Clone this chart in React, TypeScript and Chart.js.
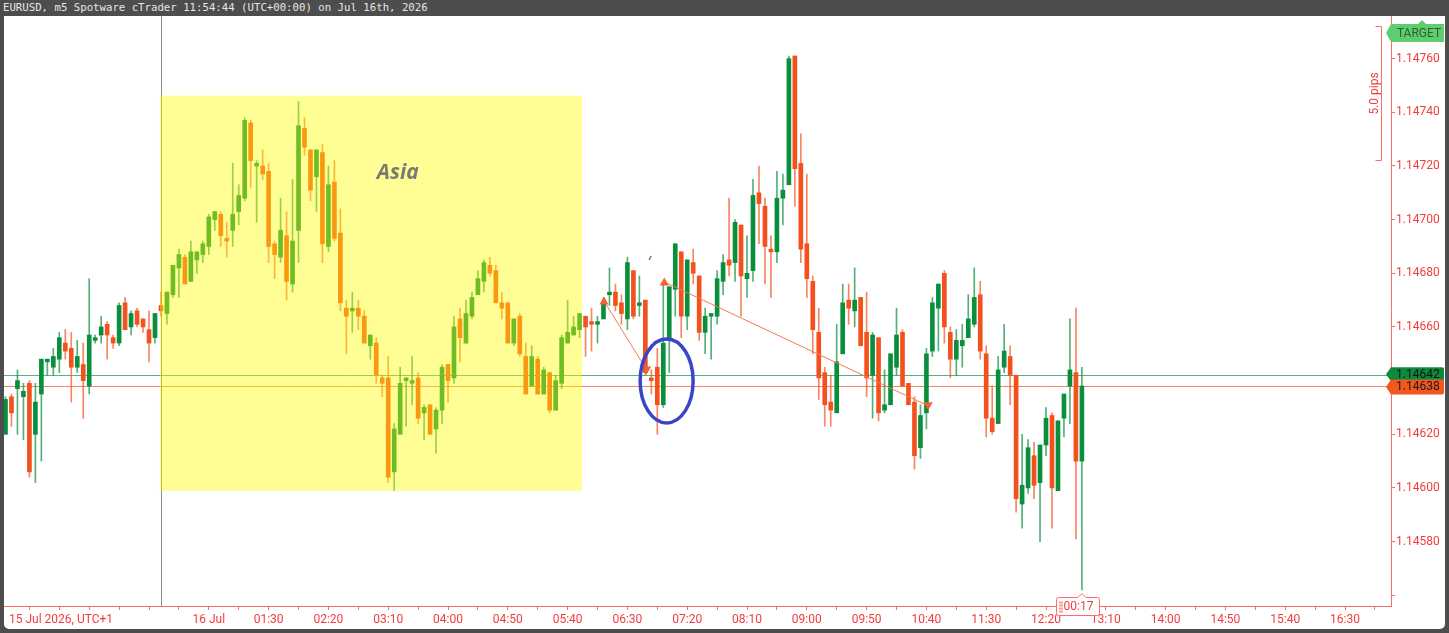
import { useEffect, useRef } from 'react';
import { Chart, registerables } from 'chart.js';

Chart.register(...registerables);

// 5-minute EURUSD candles; index 0 = 16 Jul 00:00 (UTC+1)
const FIRST_INDEX = -26;

const openPrices = [
  1.14620, 1.14634, 1.14637, 1.14634, 1.14639, 1.14620, 1.14635, 1.14647, 1.14645, 1.14648, 1.14654, 1.14652, 1.14645, 1.14646, 1.14638, 1.14655, 1.14657, 1.14661, 1.14656, 1.14654, 1.14669, 1.14660, 1.14666, 1.14663, 1.14659, 1.14656,
  1.14668, 1.14665, 1.14672, 1.14682, 1.14686, 1.14677, 1.14685, 1.14687, 1.14690, 1.14700, 1.14702, 1.14693, 1.14696, 1.14703, 1.14708, 1.14736, 1.14720, 1.14720, 1.14718, 1.14691, 1.14686, 1.14694, 1.14676, 1.14696, 1.14734, 1.14726, 1.14716, 1.14725, 1.14690, 1.14714,
  1.14695, 1.14667, 1.14666, 1.14667, 1.14664, 1.14653, 1.14654, 1.14641, 1.14641, 1.14606, 1.14620, 1.14640, 1.14639, 1.14641, 1.14628, 1.14631, 1.14622, 1.14629, 1.14646, 1.14641, 1.14663, 1.14654, 1.14664, 1.14672, 1.14677, 1.14683, 1.14681, 1.14669, 1.14669, 1.14654,
  1.14664, 1.14649, 1.14638, 1.14648, 1.14635, 1.14643, 1.14629, 1.14639, 1.14654, 1.14657, 1.14659, 1.14664, 1.14662, 1.14661, 1.14663, 1.14672, 1.14673, 1.14669, 1.14663, 1.14681, 1.14668, 1.14670, 1.14641, 1.14645, 1.14631, 1.14656, 1.14674, 1.14688, 1.14664, 1.14684,
  1.14679, 1.14658, 1.14664, 1.14664, 1.14677, 1.14685, 1.14684, 1.14698, 1.14678, 1.14681, 1.14710, 1.14705, 1.14689, 1.14688, 1.14708, 1.14713, 1.14761, 1.14721, 1.14691, 1.14677, 1.14658, 1.14643, 1.14632, 1.14628, 1.14650, 1.14670, 1.14666, 1.14671, 1.14658, 1.14642,
  1.14656, 1.14629, 1.14631, 1.14645, 1.14658, 1.14639, 1.14632, 1.14615, 1.14628, 1.14651, 1.14667, 1.14680, 1.14658, 1.14648, 1.14653, 1.14656, 1.14661, 1.14672, 1.14650, 1.14626, 1.14624, 1.14645, 1.14649, 1.14642, 1.14594, 1.14600, 1.14612, 1.14602, 1.14616, 1.14627,
  1.14599, 1.14626, 1.14638, 1.14643, 1.14610,
];

const highPrices = [
  1.14634, 1.14635, 1.14644, 1.14639, 1.14640, 1.14639, 1.14648, 1.14648, 1.14652, 1.14658, 1.14659, 1.14658, 1.14655, 1.14654, 1.14678, 1.14657, 1.14664, 1.14662, 1.14657, 1.14669, 1.14671, 1.14666, 1.14667, 1.14663, 1.14666, 1.14665,
  1.14673, 1.14673, 1.14683, 1.14689, 1.14687, 1.14692, 1.14688, 1.14692, 1.14702, 1.14703, 1.14703, 1.14699, 1.14721, 1.14713, 1.14738, 1.14737, 1.14722, 1.14726, 1.14721, 1.14692, 1.14708, 1.14703, 1.14715, 1.14744, 1.14738, 1.14726, 1.14726, 1.14728, 1.14720, 1.14722,
  1.14704, 1.14670, 1.14673, 1.14670, 1.14666, 1.14657, 1.14656, 1.14642, 1.14649, 1.14624, 1.14645, 1.14641, 1.14649, 1.14643, 1.14631, 1.14631, 1.14630, 1.14646, 1.14646, 1.14664, 1.14667, 1.14670, 1.14673, 1.14681, 1.14685, 1.14686, 1.14683, 1.14673, 1.14669, 1.14663,
  1.14665, 1.14654, 1.14653, 1.14649, 1.14645, 1.14643, 1.14642, 1.14657, 1.14670, 1.14664, 1.14665, 1.14664, 1.14667, 1.14664, 1.14671, 1.14682, 1.14676, 1.14672, 1.14686, 1.14681, 1.14679, 1.14670, 1.14644, 1.14652, 1.14676, 1.14675, 1.14691, 1.14688, 1.14685, 1.14689,
  1.14679, 1.14667, 1.14665, 1.14681, 1.14687, 1.14708, 1.14700, 1.14698, 1.14694, 1.14715, 1.14720, 1.14708, 1.14694, 1.14718, 1.14717, 1.14761, 1.14761, 1.14732, 1.14717, 1.14679, 1.14667, 1.14645, 1.14642, 1.14661, 1.14676, 1.14676, 1.14682, 1.14671, 1.14673, 1.14658,
  1.14656, 1.14644, 1.14650, 1.14667, 1.14659, 1.14639, 1.14634, 1.14631, 1.14652, 1.14671, 1.14676, 1.14681, 1.14660, 1.14659, 1.14661, 1.14672, 1.14682, 1.14677, 1.14653, 1.14638, 1.14649, 1.14661, 1.14653, 1.14642, 1.14620, 1.14618, 1.14617, 1.14616, 1.14630, 1.14628,
  1.14625, 1.14635, 1.14663, 1.14667, 1.14645,
];

const lowPrices = [
  1.14620, 1.14623, 1.14620, 1.14618, 1.14604, 1.14602, 1.14610, 1.14642, 1.14642, 1.14643, 1.14648, 1.14632, 1.14643, 1.14626, 1.14635, 1.14654, 1.14654, 1.14648, 1.14652, 1.14653, 1.14659, 1.14657, 1.14660, 1.14658, 1.14647, 1.14654,
  1.14664, 1.14661, 1.14671, 1.14671, 1.14676, 1.14677, 1.14680, 1.14684, 1.14687, 1.14696, 1.14690, 1.14686, 1.14690, 1.14698, 1.14707, 1.14712, 1.14699, 1.14715, 1.14684, 1.14678, 1.14684, 1.14670, 1.14673, 1.14684, 1.14724, 1.14707, 1.14703, 1.14684, 1.14688, 1.14692,
  1.14666, 1.14650, 1.14658, 1.14659, 1.14654, 1.14648, 1.14639, 1.14634, 1.14602, 1.14599, 1.14620, 1.14623, 1.14631, 1.14624, 1.14618, 1.14620, 1.14613, 1.14624, 1.14632, 1.14639, 1.14647, 1.14654, 1.14663, 1.14672, 1.14673, 1.14679, 1.14669, 1.14663, 1.14654, 1.14653,
  1.14649, 1.14635, 1.14638, 1.14635, 1.14635, 1.14628, 1.14629, 1.14637, 1.14654, 1.14657, 1.14656, 1.14649, 1.14651, 1.14654, 1.14663, 1.14668, 1.14666, 1.14661, 1.14659, 1.14663, 1.14664, 1.14642, 1.14635, 1.14620, 1.14630, 1.14643, 1.14664, 1.14656, 1.14659, 1.14676,
  1.14655, 1.14650, 1.14648, 1.14661, 1.14672, 1.14679, 1.14677, 1.14664, 1.14671, 1.14677, 1.14691, 1.14676, 1.14671, 1.14684, 1.14698, 1.14713, 1.14705, 1.14684, 1.14671, 1.14650, 1.14633, 1.14623, 1.14623, 1.14628, 1.14650, 1.14661, 1.14660, 1.14653, 1.14634, 1.14626,
  1.14625, 1.14628, 1.14631, 1.14642, 1.14638, 1.14631, 1.14607, 1.14611, 1.14622, 1.14649, 1.14651, 1.14654, 1.14641, 1.14642, 1.14645, 1.14656, 1.14660, 1.14648, 1.14619, 1.14620, 1.14624, 1.14643, 1.14631, 1.14591, 1.14585, 1.14598, 1.14596, 1.14580, 1.14612, 1.14585,
  1.14599, 1.14619, 1.14624, 1.14581, 1.14562,
];

const closePrices = [
  1.14633, 1.14628, 1.14640, 1.14636, 1.14606, 1.14632, 1.14648, 1.14648, 1.14649, 1.14656, 1.14651, 1.14645, 1.14649, 1.14640, 1.14657, 1.14656, 1.14660, 1.14657, 1.14654, 1.14668, 1.14659, 1.14665, 1.14661, 1.14660, 1.14654, 1.14665,
  1.14666, 1.14673, 1.14683, 1.14687, 1.14676, 1.14688, 1.14688, 1.14691, 1.14701, 1.14703, 1.14694, 1.14692, 1.14702, 1.14709, 1.14737, 1.14722, 1.14721, 1.14717, 1.14690, 1.14687, 1.14696, 1.14677, 1.14692, 1.14735, 1.14727, 1.14711, 1.14726, 1.14691, 1.14713, 1.14693,
  1.14669, 1.14664, 1.14667, 1.14664, 1.14654, 1.14657, 1.14642, 1.14639, 1.14604, 1.14622, 1.14639, 1.14641, 1.14640, 1.14626, 1.14630, 1.14620, 1.14629, 1.14645, 1.14640, 1.14660, 1.14656, 1.14665, 1.14671, 1.14678, 1.14684, 1.14680, 1.14669, 1.14667, 1.14654, 1.14663,
  1.14650, 1.14635, 1.14649, 1.14635, 1.14644, 1.14629, 1.14640, 1.14656, 1.14658, 1.14660, 1.14665, 1.14660, 1.14661, 1.14662, 1.14669, 1.14673, 1.14668, 1.14665, 1.14684, 1.14664, 1.14669, 1.14643, 1.14640, 1.14631, 1.14654, 1.14675, 1.14691, 1.14664, 1.14685, 1.14680,
  1.14658, 1.14664, 1.14665, 1.14678, 1.14684, 1.14683, 1.14699, 1.14679, 1.14680, 1.14709, 1.14706, 1.14690, 1.14688, 1.14708, 1.14711, 1.14760, 1.14719, 1.14689, 1.14678, 1.14659, 1.14641, 1.14631, 1.14629, 1.14647, 1.14669, 1.14667, 1.14670, 1.14653, 1.14641, 1.14657,
  1.14628, 1.14631, 1.14650, 1.14657, 1.14638, 1.14631, 1.14612, 1.14627, 1.14650, 1.14669, 1.14676, 1.14660, 1.14648, 1.14655, 1.14655, 1.14663, 1.14671, 1.14651, 1.14626, 1.14621, 1.14644, 1.14651, 1.14642, 1.14596, 1.14601, 1.14615, 1.14601, 1.14616, 1.14626, 1.14600,
  1.14625, 1.14635, 1.14644, 1.14610, 1.14638,
];

const xTickLabels = ['16 Jul', '01:30', '02:20', '03:10', '04:00', '04:50', '05:40', '06:30', '07:20', '08:10', '09:00', '09:50', '10:40', '11:30', '12:20', '13:10', '14:00', '14:50', '15:40', '16:30'];
const X_LABEL_FIRST = 8;
const X_LABEL_STEP = 10;
const X_TICK_FIRST = -22;
const X_TICK_STEP = 5;
const X_TICK_LAST = 203;
const yTickValues = [1.1456, 1.1458, 1.146, 1.1462, 1.1464, 1.1466, 1.1468, 1.147, 1.1472, 1.1474, 1.1476];
const ASK = 1.14642;
const BID = 1.14638;
const X_MIN = -26.25;
const X_MAX = 205.69;
const Y_MIN = 1.14556;
const Y_MAX = 1.147759;

// drawings
const asiaBox = { x0: -0.17, x1: 70.4, top: 1.147462, bottom: 1.145989 };
const asiaLabel = { x: 39.6, y: 1.147174, text: 'Asia' };
const trendLines = [
  { x0: 74.08, y0: 1.146697, x1: 81.22, y1: 1.14644 },
  { x0: 84.16, y0: 1.146768, x1: 128.3, y1: 1.146306 },
];
const ellipse = { x: 84.56, y: 1.146399, rx: 4.43, ry: 0.0001565 };
const pipsRuler = { top: 1.147723, bottom: 1.147223, text: '5.0 pips' };

const GREEN = '#0a8f3d';
const RED = '#f4511e';
const GREEN_WICK = 'rgba(10,143,61,0.7)';
const RED_WICK = 'rgba(244,81,30,0.7)';
const AXIS_RED = '#f23c3c';
const AXIS_LINE = '#ff6b6b';

function triangle(ctx: CanvasRenderingContext2D, px: number, py: number, up: boolean) {
  ctx.beginPath();
  if (up) {
    ctx.moveTo(px, py - 4.5);
    ctx.lineTo(px + 4.5, py + 3.5);
    ctx.lineTo(px - 4.5, py + 3.5);
  } else {
    ctx.moveTo(px, py + 4.5);
    ctx.lineTo(px + 4.5, py - 3.5);
    ctx.lineTo(px - 4.5, py - 3.5);
  }
  ctx.closePath();
  ctx.fill();
}

function priceTag(ctx: CanvasRenderingContext2D, left: number, right: number, cy: number, h: number, bg: string, text: string, fg: string) {
  ctx.fillStyle = bg;
  ctx.beginPath();
  ctx.moveTo(left, cy);
  ctx.lineTo(left + 5, cy - h / 2);
  ctx.lineTo(right - 2, cy - h / 2);
  ctx.quadraticCurveTo(right, cy - h / 2, right, cy - h / 2 + 2);
  ctx.lineTo(right, cy + h / 2 - 2);
  ctx.quadraticCurveTo(right, cy + h / 2, right - 2, cy + h / 2);
  ctx.lineTo(left + 5, cy + h / 2);
  ctx.closePath();
  ctx.fill();
  ctx.fillStyle = fg;
  ctx.font = '12px Roboto';
  ctx.textBaseline = 'middle';
  ctx.textAlign = 'left';
  ctx.fillText(text, left + 10, cy + 0.5);
}

const overlayPlugin = {
  id: 'ctraderOverlay',
  beforeDatasetsDraw(chart: any) {
    const { ctx, chartArea: a, scales } = chart;
    const x = scales.x;
    const y = scales.y;
    ctx.save();
    ctx.beginPath();
    ctx.rect(a.left, a.top, a.right - a.left, a.bottom - a.top);
    ctx.clip();
    const sx = Math.round(x.getPixelForValue(0)) + 0.5;
    ctx.strokeStyle = '#8a8a8a';
    ctx.lineWidth = 1;
    ctx.beginPath();
    ctx.moveTo(sx, a.top);
    ctx.lineTo(sx, a.bottom);
    ctx.stroke();
    const ay = Math.round(y.getPixelForValue(ASK)) + 0.5;
    ctx.strokeStyle = 'rgba(30,150,80,0.75)';
    ctx.beginPath();
    ctx.moveTo(a.left, ay);
    ctx.lineTo(a.right, ay);
    ctx.stroke();
    const by = Math.round(y.getPixelForValue(BID)) + 0.5;
    ctx.strokeStyle = 'rgba(244,100,60,0.8)';
    ctx.beginPath();
    ctx.moveTo(a.left, by);
    ctx.lineTo(a.right, by);
    ctx.stroke();
    ctx.restore();
  },
  afterDatasetsDraw(chart: any) {
    const { ctx, chartArea: a, scales } = chart;
    const x = scales.x;
    const y = scales.y;
    ctx.save();
    ctx.beginPath();
    ctx.rect(a.left, a.top, a.right - a.left, a.bottom - a.top);
    ctx.clip();
    // Asia session box
    const bx0 = x.getPixelForValue(asiaBox.x0);
    const bx1 = x.getPixelForValue(asiaBox.x1);
    const by0 = y.getPixelForValue(asiaBox.top);
    const by1 = y.getPixelForValue(asiaBox.bottom);
    ctx.fillStyle = 'rgba(255,252,0,0.42)';
    ctx.fillRect(bx0, by0, bx1 - bx0, by1 - by0);
    ctx.fillStyle = '#7a7a74';
    ctx.font = 'italic bold 21px "Open Sans"';
    ctx.textAlign = 'center';
    ctx.textBaseline = 'middle';
    ctx.fillText(asiaLabel.text, x.getPixelForValue(asiaLabel.x), y.getPixelForValue(asiaLabel.y));
    // trend lines
    ctx.strokeStyle = '#f47a52';
    ctx.fillStyle = '#f4602e';
    ctx.lineWidth = 1;
    trendLines.forEach((t) => {
      const p0x = x.getPixelForValue(t.x0);
      const p0y = y.getPixelForValue(t.y0);
      const p1x = x.getPixelForValue(t.x1);
      const p1y = y.getPixelForValue(t.y1);
      ctx.beginPath();
      ctx.moveTo(p0x, p0y);
      ctx.lineTo(p1x, p1y);
      ctx.stroke();
      triangle(ctx, p0x, p0y, true);
      triangle(ctx, p1x, p1y, false);
    });
    // small pen mark
    const mx = x.getPixelForValue(81.8);
    const my = y.getPixelForValue(1.146857);
    ctx.strokeStyle = '#777';
    ctx.lineWidth = 1.5;
    ctx.beginPath();
    ctx.moveTo(mx - 1, my + 2);
    ctx.lineTo(mx + 1, my - 2);
    ctx.stroke();
    // blue ellipse
    const ex = x.getPixelForValue(ellipse.x);
    const ey = y.getPixelForValue(ellipse.y);
    const erx = x.getPixelForValue(ellipse.x + ellipse.rx) - ex;
    const ery = ey - y.getPixelForValue(ellipse.y + ellipse.ry);
    ctx.strokeStyle = '#3a45c8';
    ctx.lineWidth = 3.5;
    ctx.beginPath();
    ctx.ellipse(ex, ey, erx, ery, 0, 0, Math.PI * 2);
    ctx.stroke();
    // 5.0 pips ruler
    ctx.strokeStyle = AXIS_LINE;
    ctx.lineWidth = 1;
    const bTop = Math.round(y.getPixelForValue(pipsRuler.top)) + 0.5;
    const bBot = Math.round(y.getPixelForValue(pipsRuler.bottom)) + 0.5;
    const brx = a.right - 9.5;
    ctx.beginPath();
    ctx.moveTo(brx - 6, bTop);
    ctx.lineTo(brx, bTop);
    ctx.lineTo(brx, bBot);
    ctx.lineTo(brx - 6, bBot);
    ctx.stroke();
    ctx.save();
    ctx.translate(brx - 7, (bTop + bBot) / 2);
    ctx.rotate(-Math.PI / 2);
    ctx.fillStyle = AXIS_RED;
    ctx.font = '12px Roboto';
    ctx.textAlign = 'center';
    ctx.textBaseline = 'middle';
    ctx.fillText(pipsRuler.text, 0, 0);
    ctx.restore();
    ctx.restore();
  },
  afterDraw(chart: any) {
    const { ctx, chartArea: a, scales, width } = chart;
    const x = scales.x;
    const y = scales.y;
    ctx.save();
    // price tags on the right axis
    priceTag(ctx, a.right - 5, width - 1, y.getPixelForValue(ASK) - 1, 14, '#0b8a3c', ASK.toFixed(5), '#111');
    priceTag(ctx, a.right - 5, width - 1, y.getPixelForValue(BID) + 1, 15, '#f4561f', BID.toFixed(5), '#1a1a1a');
    // TARGET tag
    ctx.fillStyle = '#5ecd6e';
    ctx.beginPath();
    const tt = 8;
    const tb = 26;
    ctx.moveTo(a.right - 5, (tt + tb) / 2);
    ctx.lineTo(a.right, tt);
    ctx.lineTo(a.right + 27, tt);
    ctx.lineTo(a.right + 31, tt - 4);
    ctx.lineTo(a.right + 35, tt);
    ctx.lineTo(width - 1, tt);
    ctx.lineTo(width - 1, tb);
    ctx.lineTo(a.right, tb);
    ctx.closePath();
    ctx.fill();
    ctx.fillStyle = '#2f5f35';
    ctx.font = '12px Roboto';
    ctx.textAlign = 'center';
    ctx.textBaseline = 'middle';
    ctx.fillText('TARGET', (a.right + width) / 2 + 1, (tt + tb) / 2 + 0.5);
    // countdown box
    const lastX = x.getPixelForValue(FIRST_INDEX + closePrices.length - 1);
    const cL = Math.round(lastX) - 25.5;
    const cR = Math.round(lastX) + 17.5;
    const cT = a.bottom - 8.5;
    const cB = a.bottom + 9.5;
    ctx.fillStyle = '#fff';
    ctx.strokeStyle = AXIS_LINE;
    ctx.lineWidth = 1;
    ctx.beginPath();
    ctx.moveTo(cL + 2, cT);
    ctx.lineTo(lastX - 4, cT);
    ctx.lineTo(lastX, cT - 4);
    ctx.lineTo(lastX + 4, cT);
    ctx.lineTo(cR - 2, cT);
    ctx.quadraticCurveTo(cR, cT, cR, cT + 2);
    ctx.lineTo(cR, cB - 2);
    ctx.quadraticCurveTo(cR, cB, cR - 2, cB);
    ctx.lineTo(cL + 2, cB);
    ctx.quadraticCurveTo(cL, cB, cL, cB - 2);
    ctx.lineTo(cL, cT + 2);
    ctx.quadraticCurveTo(cL, cT, cL + 2, cT);
    ctx.closePath();
    ctx.fill();
    ctx.stroke();
    ctx.fillStyle = AXIS_RED;
    for (let r = 0; r < 4; r++) {
      ctx.fillRect(cL + 3, cT + 4 + r * 3, 1, 2);
      ctx.fillRect(cL + 5, cT + 4 + r * 3, 1, 2);
    }
    ctx.font = '12px Roboto';
    ctx.textAlign = 'left';
    ctx.textBaseline = 'middle';
    ctx.fillText('00:17', cL + 7, (cT + cB) / 2 + 0.5);
    // first date label
    ctx.textAlign = 'left';
    ctx.fillText('15 Jul 2026, UTC+1', 5, a.bottom + 13.5);
    ctx.restore();
  },
};

export default function App() {
  const canvasRef = useRef<HTMLCanvasElement | null>(null);

  useEffect(() => {
    const canvas = canvasRef.current;
    if (!canvas) return;
    const xs = closePrices.map((_, k) => FIRST_INDEX + k);
    const up = closePrices.map((c, k) => c >= openPrices[k]);
    const chart = new Chart(canvas, {
      type: 'bar',
      data: {
        datasets: [
          {
            label: 'wicks',
            data: xs.map((xv, k) => ({ x: xv, y: [lowPrices[k], highPrices[k]] })) as any,
            backgroundColor: up.map((u) => (u ? GREEN_WICK : RED_WICK)),
            barThickness: 1,
            grouped: false,
            borderWidth: 0,
            minBarLength: 1,
          } as any,
          {
            label: 'bodies',
            data: xs.map((xv, k) => ({ x: xv, y: [openPrices[k], closePrices[k]] })) as any,
            backgroundColor: up.map((u) => (u ? GREEN : RED)),
            barThickness: 4,
            grouped: false,
            borderWidth: 0,
            minBarLength: 1,
          } as any,
        ],
      },
      options: {
        responsive: false,
        animation: false,
        devicePixelRatio: 1,
        layout: { padding: 0 },
        plugins: { legend: { display: false }, tooltip: { enabled: false } },
        scales: {
          x: {
            type: 'linear',
            min: X_MIN,
            max: X_MAX,
            offset: false,
            position: 'bottom',
            grid: { display: true, offset: false, drawOnChartArea: false, drawTicks: true, tickLength: 4, color: AXIS_LINE },
            border: { display: true, color: AXIS_LINE },
            ticks: {
              autoSkip: false,
              maxRotation: 0,
              minRotation: 0,
              padding: 3,
              color: AXIS_RED,
              font: { family: 'Roboto', size: 12 },
              callback: (v: any) => {
                const n = Number(v);
                const k = (n - X_LABEL_FIRST) / X_LABEL_STEP;
                if (Number.isInteger(k) && k >= 0 && k < xTickLabels.length) return xTickLabels[k];
                return '';
              },
            },
            afterBuildTicks: (scale: any) => {
              const t: any[] = [];
              for (let v = X_TICK_FIRST; v <= X_TICK_LAST; v += X_TICK_STEP) t.push({ value: v });
              scale.ticks = t;
            },
            afterFit: (scale: any) => {
              scale.height = 23;
              scale.paddingLeft = 0;
              scale.paddingRight = 0;
            },
          } as any,
          y: {
            type: 'linear',
            position: 'right',
            min: Y_MIN,
            max: Y_MAX,
            beginAtZero: false,
            grid: { display: true, drawOnChartArea: false, drawTicks: true, tickLength: 4, color: AXIS_LINE },
            border: { display: true, color: AXIS_LINE },
            ticks: {
              padding: 1,
              color: AXIS_RED,
              font: { family: 'Roboto', size: 12 },
              callback: (v: any) => {
                const n = Number(v);
                if (Math.abs(n - 1.1456) < 1e-7 || Math.abs(n - 1.1464) < 1e-7) return '';
                return n.toFixed(5);
              },
            },
            afterBuildTicks: (scale: any) => {
              scale.ticks = yTickValues.map((v) => ({ value: v }));
            },
            afterFit: (scale: any) => {
              scale.width = 54;
              scale.paddingTop = 0;
              scale.paddingBottom = 0;
            },
          } as any,
        },
      } as any,
      plugins: [overlayPlugin],
    });
    return () => chart.destroy();
  }, []);

  return (
    <div style={{ position: 'fixed', left: 0, top: 0, width: 1449, height: 633, background: '#4d4d4d', overflow: 'hidden' }}>
      <div
        style={{
          position: 'absolute',
          left: 3,
          top: 0,
          height: 16,
          lineHeight: '16px',
          color: '#e6e6e6',
          fontFamily: '"DejaVu Sans Mono", monospace',
          fontSize: '10.7px',
          whiteSpace: 'pre',
        }}
      >
        EURUSD, m5 Spotware cTrader 11:54:44 (UTC+00:00) on Jul 16th, 2026
      </div>
      <div style={{ position: 'absolute', left: 4, top: 16, width: 1441, height: 613, background: '#fff', borderRadius: '0 0 5px 5px', overflow: 'hidden' }}>
        <canvas ref={canvasRef} width={1441} height={613} style={{ display: 'block' }} />
      </div>
    </div>
  );
}
